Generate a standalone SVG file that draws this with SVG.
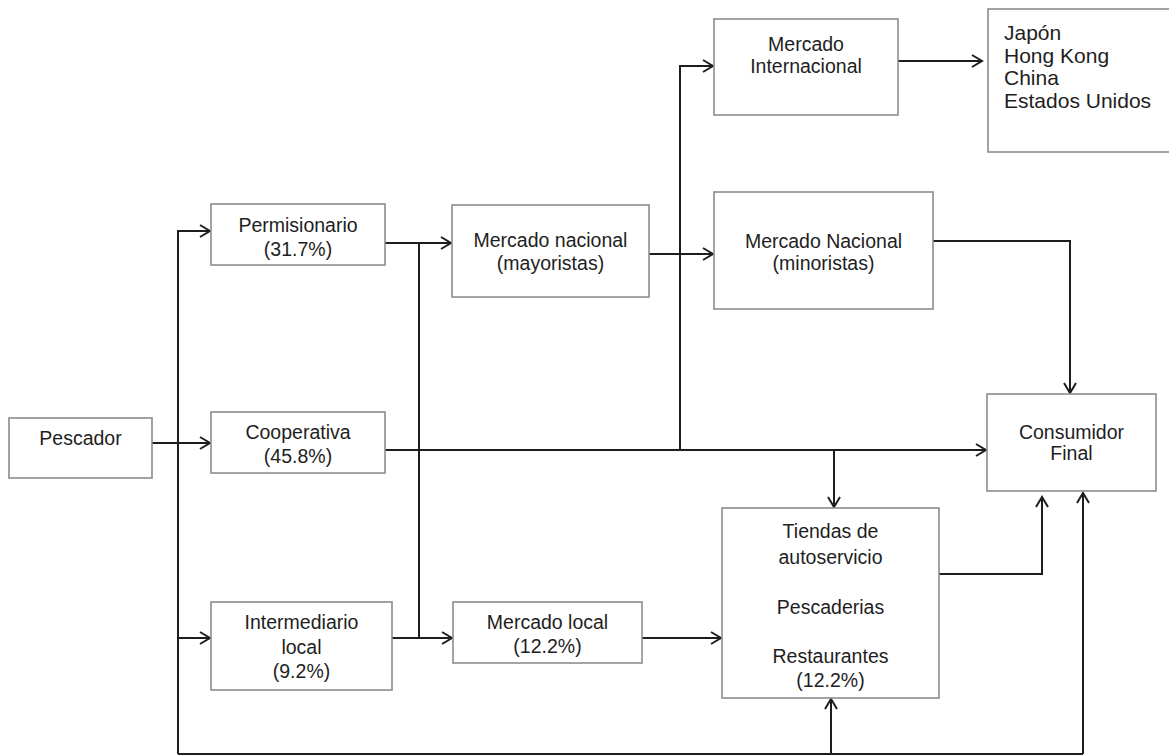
<svg xmlns="http://www.w3.org/2000/svg" width="1169" height="756" viewBox="0 0 1169 756">
<style>
.box{fill:#fff;stroke:#8c8c8c;stroke-width:1.6}
.t{font-family:"Liberation Sans",Arial,sans-serif;font-size:19.5px;fill:#1e1e1e;text-anchor:middle}
.tl{text-anchor:start;font-size:21px}
.c{fill:none;stroke:#1e1e1e;stroke-width:2}
</style>
<defs>
<marker id="ah" markerUnits="userSpaceOnUse" markerWidth="14" markerHeight="16" refX="11" refY="7" orient="auto">
<path d="M1,1 L11,7 L1,13" fill="none" stroke="#1e1e1e" stroke-width="2"/>
</marker>
</defs>
<rect width="1169" height="756" fill="#fff"/>
<g id="connectors" class="c">
<path d="M152,443 H210" marker-end="url(#ah)"/>
<path d="M178,754 V231 H210" marker-end="url(#ah)"/>
<path d="M178,638 H210" marker-end="url(#ah)"/>
<path d="M178,754 H1083"/>
<path d="M385,243 H451" marker-end="url(#ah)"/>
<path d="M419,243 V638"/>
<path d="M392,638 H452" marker-end="url(#ah)"/>
<path d="M385,450 H986" marker-end="url(#ah)"/>
<path d="M680,450 V66 H713" marker-end="url(#ah)"/>
<path d="M649,254 H713" marker-end="url(#ah)"/>
<path d="M898,61 H982" marker-end="url(#ah)"/>
<path d="M933,241 H1070 V393" marker-end="url(#ah)"/>
<path d="M834,450 V507" marker-end="url(#ah)"/>
<path d="M642,638 H721" marker-end="url(#ah)"/>
<path d="M831,754 V699" marker-end="url(#ah)"/>
<path d="M939,574 H1042 V497" marker-end="url(#ah)"/>
<path d="M1083,754 V493" marker-end="url(#ah)"/>
</g>
<g id="pescador"><rect class="box" x="9" y="418" width="143" height="60"/><text class="t" x="80.5" y="445">Pescador</text></g>
<g id="permisionario"><rect class="box" x="211" y="204" width="174" height="61"/><text class="t" x="298" y="232">Permisionario</text><text class="t" x="298" y="256">(31.7%)</text></g>
<g id="cooperativa"><rect class="box" x="211" y="412" width="174" height="61"/><text class="t" x="298" y="439">Cooperativa</text><text class="t" x="298" y="463">(45.8%)</text></g>
<g id="intermediario"><rect class="box" x="211" y="602" width="181" height="88"/><text class="t" x="301.5" y="629">Intermediario</text><text class="t" x="301.5" y="654">local</text><text class="t" x="301.5" y="678">(9.2%)</text></g>
<g id="mercado-local"><rect class="box" x="453" y="602" width="189" height="61"/><text class="t" x="547.5" y="629">Mercado local</text><text class="t" x="547.5" y="653">(12.2%)</text></g>
<g id="mercado-nacional-mayoristas"><rect class="box" x="452" y="205" width="197" height="92"/><text class="t" x="550.5" y="247">Mercado nacional</text><text class="t" x="550.5" y="270">(mayoristas)</text></g>
<g id="mercado-internacional"><rect class="box" x="714" y="19" width="184" height="96"/><text class="t" x="806" y="51">Mercado</text><text class="t" x="806" y="73">Internacional</text></g>
<g id="mercado-nacional-minoristas"><rect class="box" x="714" y="192" width="219" height="117"/><text class="t" x="823.5" y="248">Mercado Nacional</text><text class="t" x="823.5" y="270">(minoristas)</text></g>
<g id="paises"><rect class="box" x="988" y="9" width="190" height="143"/><text class="t tl" x="1004" y="40">Japón</text><text class="t tl" x="1004" y="63">Hong Kong</text><text class="t tl" x="1004" y="85">China</text><text class="t tl" x="1004" y="108">Estados Unidos</text></g>
<g id="consumidor-final"><rect class="box" x="987" y="394" width="169" height="97"/><text class="t" x="1071.5" y="439">Consumidor</text><text class="t" x="1071.5" y="460">Final</text></g>
<g id="tiendas"><rect class="box" x="722" y="508" width="217" height="190"/><text class="t" x="830.5" y="538">Tiendas de</text><text class="t" x="830.5" y="564">autoservicio</text><text class="t" x="830.5" y="614">Pescaderias</text><text class="t" x="830.5" y="663">Restaurantes</text><text class="t" x="830.5" y="687">(12.2%)</text></g>
</svg>
